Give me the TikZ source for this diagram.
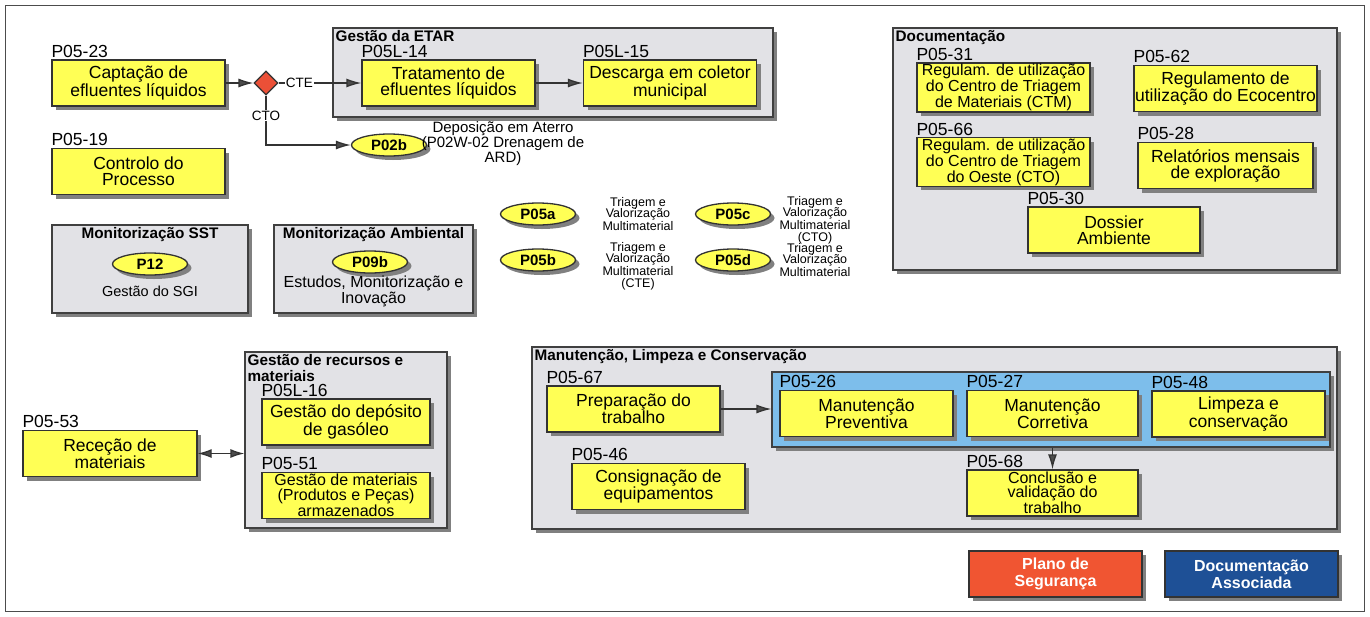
\documentclass[tikz,border=0pt]{standalone}
\usepackage{fontspec}
\setmainfont{Liberation Sans}
\usetikzlibrary{shapes.geometric,arrows.meta}
\definecolor{procyellow}{RGB}{255,255,85}
\definecolor{grpgray}{RGB}{226,226,230}
\definecolor{lightblue}{RGB}{125,190,235}
\definecolor{decred}{RGB}{235,80,55}
\definecolor{planored}{RGB}{240,85,50}
\definecolor{docblue}{RGB}{30,80,150}
\begin{document}
\begin{tikzpicture}[x=1pt, y=-1pt,
    shadowed/.style={preaction={draw=none, fill=black!50,
                     transform canvas={xshift=4pt, yshift=-4pt}}},
    grp/.style={draw=black!75, line width=1.2pt, fill=grpgray, inner sep=0pt, shadowed},
    grptitle/.style={font=\bfseries\fontsize{15.3}{16}\selectfont,
                     inner sep=3pt, align=left},
    proc/.style={draw=black!80, line width=1.3pt, fill=procyellow, minimum width=173pt,
                 minimum height=46pt, inner sep=1pt, align=center,
                 font=\fontsize{17.5}{16}\selectfont, shadowed},
    three/.style={font=\fontsize{16}{14.5}\selectfont},
    pcode/.style={label={[anchor=south west, inner sep=0pt, yshift=1.5pt,
                  font=\fontsize{17.5}{17}\selectfont]north west:#1}},
    oval/.style={ellipse, draw=black!80, line width=1.3pt, fill=procyellow,
                 minimum width=75pt, minimum height=22pt, inner sep=0pt,
                 font=\bfseries\fontsize{15}{15}\selectfont, shadowed},
    note/.style={align=center, inner sep=0pt,
                 font=\fontsize{12.5}{11.7}\selectfont},
    branch/.style={fill=white, inner sep=1pt, font=\fontsize{13.5}{13}\selectfont},
    decis/.style={diamond, draw=black!80, line width=1.2pt, fill=decred,
                  minimum width=24pt, minimum height=24pt, inner sep=0pt},
    btn/.style={draw=black!80, line width=1.3pt, minimum width=173pt, minimum height=46pt,
                align=center, text=white,
                font=\bfseries\fontsize{16}{17}\selectfont, shadowed},
    flow/.style={draw=black!80, line width=1.3pt,
                 -{Latex[length=15pt, width=9pt, fill=black!70]}},
    biflow/.style={draw=black!80, line width=1.3pt,
                 {Latex[length=14pt, width=9pt, fill=black!70]}-{Latex[length=14pt, width=9pt, fill=black!70]}}]
  \useasboundingbox (0,0) rectangle (1370,616);
  \draw[black!70, line width=1pt] (5,5) rectangle (1364,611);

  % groups
  \node[grp, minimum width=440pt, minimum height=89pt] (etar) at (553,72.5) {};
  \node[grptitle, anchor=north west] (etart) at (etar.north west) {Gestão da ETAR};
  \node[grp, minimum width=444pt, minimum height=242pt] (docgrp) at (1115,149) {};
  \node[grptitle, anchor=north west] (docgrpt) at (docgrp.north west) {Documentação};
  \node[grp, minimum width=196pt, minimum height=88pt] (sst) at (150,269) {};
  \node[grptitle, anchor=north] (sstt) at (sst.north) {Monitorização SST};
  \node[grp, minimum width=199pt, minimum height=88pt] (amb) at (373.5,269) {};
  \node[grptitle, anchor=north] (ambt) at (amb.north) {Monitorização Ambiental};
  \node[grp, minimum width=202pt, minimum height=176pt] (recgrp) at (346,440) {};
  \node[grptitle, anchor=north west] (recgrpt) at (recgrp.north west) {Gestão de recursos e\\materiais};
  \node[grp, minimum width=805pt, minimum height=182pt] (mangrp) at (934.5,438) {};
  \node[grptitle, anchor=north west] (mangrpt) at (mangrp.north west) {Manutenção, Limpeza e Conservação};
  \node[grp, fill=lightblue, minimum width=558pt, minimum height=75pt] (bluegrp) at (1051,409.5) {};

  % processes
  \node[proc, pcode=P05-23] (capt) at (138.5,83) {Captação de\\efluentes líquidos};
  \node[proc, pcode=P05-19] (ctrl) at (138.5,171.5) {Controlo do\\Processo};
  \node[decis] (dec) at (266,83) {};
  \node[proc, pcode=P05L-14] (trat) at (448.5,83) {Tratamento de\\efluentes líquidos};
  \node[proc, pcode=P05L-15] (desc) at (670,83) {Descarga em coletor\\municipal};
  \node[oval] (p02b) at (389,145) {P02b};
  \node[note, font=\fontsize{15}{12.5}\selectfont] (p02bn) at (503,144) {Deposição em Aterro\\(P02W-02 Drenagem de\\ARD)};

  \node[oval] (p12) at (150,264) {P12};
  \node[note, font=\fontsize{14.5}{13}\selectfont] (p12n) at (150,291) {Gestão do SGI};
  \node[oval] (p09b) at (370,262) {P09b};
  \node[note, font=\fontsize{16}{12.5}\selectfont] (p09bn) at (373.5,291) {Estudos, Monitorização e\\Inovação};

  \node[oval] (p05a) at (538,214) {P05a};
  \node[note] (p05an) at (638,214) {Triagem e\\Valorização\\Multimaterial};
  \node[oval] (p05c) at (733,214) {P05c};
  \node[note] (p05cn) at (815,220) {Triagem e\\Valorização\\Multimaterial\\(CTO)};
  \node[oval] (p05b) at (538,260) {P05b};
  \node[note] (p05bn) at (638,266) {Triagem e\\Valorização\\Multimaterial\\(CTE)};
  \node[oval] (p05d) at (733,260) {P05d};
  \node[note] (p05dn) at (815,260) {Triagem e\\Valorização\\Multimaterial};

  \node[proc, three, pcode=P05-31] (r31) at (1003.5,87.5) {Regulam. de utilização\\do Centro de Triagem\\de Materiais (CTM)};
  \node[proc, minimum width=175pt, pcode=P05-62] (r62) at (1225.5,88.5) {Regulamento de\\utilização do Ecocentro};
  \node[proc, three, pcode=P05-66] (r66) at (1003.5,162) {Regulam. de utilização\\do Centro de Triagem\\do Oeste (CTO)};
  \node[proc, minimum width=175pt, pcode=P05-28] (r28) at (1225.5,165.5) {Relatórios mensais\\de exploração};
  \node[proc, minimum width=172pt, pcode=P05-30] (r30) at (1114,230) {Dossier\\Ambiente};

  \node[proc, minimum width=174pt, pcode=P05-53] (rec53) at (110,453.5) {Receção de\\materiais};
  \node[proc, minimum width=168pt, pcode=P05L-16] (g16) at (346,422) {Gestão do depósito\\de gasóleo};
  \node[proc, three, minimum width=168pt, pcode=P05-51] (g51) at (346,495.5) {Gestão de materiais\\(Produtos e Peças)\\armazenados};

  \node[proc, pcode=P05-67] (prep) at (633.5,409) {Preparação do\\trabalho};
  \node[proc, pcode=P05-46] (cons) at (658.5,486.5) {Consignação de\\equipamentos};
  \node[proc, pcode=P05-26] (m26) at (866.5,413.5) {Manutenção\\Preventiva};
  \node[proc, minimum width=171pt, pcode=P05-27] (m27) at (1052.5,413.5) {Manutenção\\Corretiva};
  \node[proc, pcode=P05-48] (m48) at (1238.5,414) {Limpeza e\\conservação};
  \node[proc, three, minimum width=171pt, pcode=P05-68] (concl) at (1052.5,493) {Conclusão e\\validação do\\trabalho};

  \node[btn, fill=planored] (plano) at (1055.5,574) {Plano de\\Segurança};
  \node[btn, fill=docblue] (docas) at (1251.5,574) {Documentação\\Associada};

  % connectors
  \draw[flow] (capt) -- (dec);
  \draw[flow] (dec) -- node[branch, pos=0.25] (cte) {CTE} (trat);
  \draw[flow] (dec.south) |- node[branch, pos=0.2] (cto) {CTO} (p02b.west);
  \draw[flow] (trat) -- (desc);
  \draw[biflow] (rec53.east) -- (rec53.east -| recgrp.west);
  \draw[flow] (prep.east) -- (prep.east -| bluegrp.west);
  \draw[flow] (concl.north |- bluegrp.south) -- (concl.north);
\end{tikzpicture}
\end{document}
